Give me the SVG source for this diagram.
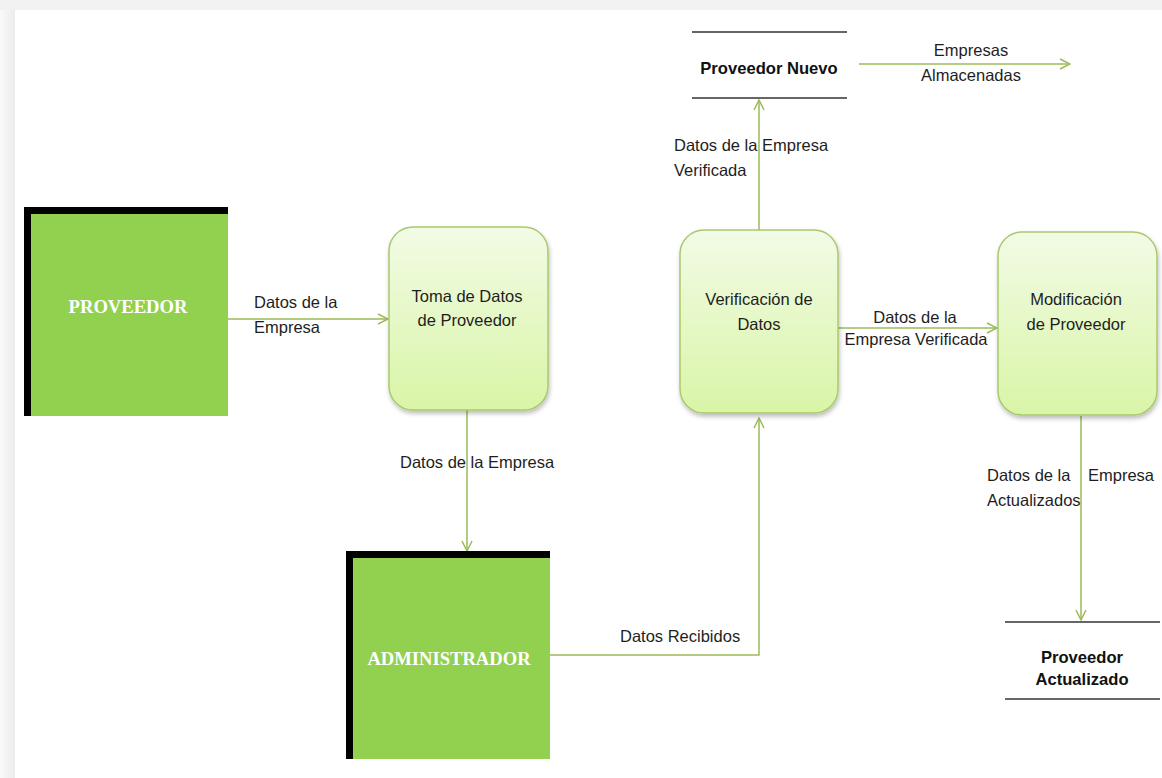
<svg xmlns="http://www.w3.org/2000/svg" width="1162" height="778" viewBox="0 0 1162 778">
<style>
.lbl{font-family:"Liberation Sans",Arial,sans-serif;font-size:16.5px;fill:#1e1e1e}
.ent{font-family:"Liberation Serif","Times New Roman",serif;font-size:18.6px;font-weight:bold;fill:#ffffff}
.st{font-family:"Liberation Sans",Arial,sans-serif;font-size:16.6px;font-weight:bold;fill:#111111}
.conn{fill:none;stroke:#9bbb59;stroke-width:1.5}
.proc{fill:url(#pg);stroke:#a9c96e;stroke-width:1.5;filter:url(#sh)}
.line{stroke:#333333;stroke-width:1.3}
</style>
<defs>
<linearGradient id="pg" x1="0" y1="0" x2="0" y2="1">
<stop offset="0" stop-color="#f2fbe6"/>
<stop offset="1" stop-color="#d9f5a6"/>
</linearGradient>
<linearGradient id="lb" x1="0" y1="0" x2="1" y2="0">
<stop offset="0" stop-color="#fafafa"/>
<stop offset="1" stop-color="#ececec"/>
</linearGradient>
<filter id="sh" x="-20%" y="-20%" width="140%" height="140%">
<feDropShadow dx="1" dy="3" stdDeviation="2" flood-color="#000" flood-opacity="0.25"/>
</filter>
<marker id="ar" viewBox="0 0 12 12" refX="11" refY="6" markerWidth="12" markerHeight="12" markerUnits="userSpaceOnUse" orient="auto">
<path d="M1,1 L11,6 L1,11" fill="none" stroke="#9bbb59" stroke-width="1.5"/>
</marker>
</defs>
<rect x="0" y="0" width="1162" height="778" fill="#f2f2f2"/>
<rect x="0" y="10" width="15" height="768" fill="url(#lb)"/>
<rect x="15" y="10" width="1147" height="768" fill="#ffffff"/>

<g id="connectors">
<line class="conn" x1="228" y1="319" x2="388" y2="319" marker-end="url(#ar)"/>
<line class="conn" x1="467" y1="410" x2="467" y2="551" marker-end="url(#ar)"/>
<polyline class="conn" points="550,655 759,655 759,418" marker-end="url(#ar)"/>
<line class="conn" x1="759" y1="230" x2="759" y2="100" marker-end="url(#ar)"/>
<line class="conn" x1="859" y1="64" x2="1070" y2="64" marker-end="url(#ar)"/>
<line class="conn" x1="838" y1="328" x2="997" y2="328" marker-end="url(#ar)"/>
<line class="conn" x1="1081" y1="416" x2="1081" y2="620" marker-end="url(#ar)"/>
<text class="lbl" x="254" y="308">Datos de la</text>
<text class="lbl" x="254" y="333">Empresa</text>
<text class="lbl" x="400" y="468">Datos de la Empresa</text>
<text class="lbl" x="620" y="642">Datos Recibidos</text>
<text class="lbl" x="674" y="151">Datos de la Empresa</text>
<text class="lbl" x="674" y="176">Verificada</text>
<text class="lbl" x="971" y="56" text-anchor="middle">Empresas</text>
<text class="lbl" x="971" y="81" text-anchor="middle">Almacenadas</text>
<text class="lbl" x="915" y="323" text-anchor="middle">Datos de la</text>
<text class="lbl" x="916" y="345" text-anchor="middle">Empresa Verificada</text>
<text class="lbl" x="987" y="481">Datos de la</text>
<text class="lbl" x="1088" y="481">Empresa</text>
<text class="lbl" x="987" y="506">Actualizados</text>
</g>

<g id="proveedor">
<rect x="24" y="207" width="204" height="209" fill="#000000"/>
<rect x="31" y="214" width="197" height="202" fill="#92d050"/>
<text class="ent" x="128" y="313" text-anchor="middle">PROVEEDOR</text>
</g>

<g id="toma-datos">
<rect class="proc" x="389" y="227" width="159" height="183" rx="24"/>
<text class="lbl" x="467" y="302" text-anchor="middle">Toma de Datos</text>
<text class="lbl" x="467" y="326" text-anchor="middle">de Proveedor</text>
</g>

<g id="administrador">
<rect x="346" y="551" width="204" height="208" fill="#000000"/>
<rect x="353" y="558" width="197" height="201" fill="#92d050"/>
<text class="ent" x="449" y="665" text-anchor="middle">ADMINISTRADOR</text>
</g>

<g id="verificacion">
<rect class="proc" x="680" y="230" width="158" height="183" rx="24"/>
<text class="lbl" x="759" y="305" text-anchor="middle">Verificación de</text>
<text class="lbl" x="759" y="330" text-anchor="middle">Datos</text>
</g>

<g id="modificacion">
<rect class="proc" x="998" y="232" width="159" height="183" rx="24"/>
<text class="lbl" x="1076" y="305" text-anchor="middle">Modificación</text>
<text class="lbl" x="1076" y="330" text-anchor="middle">de Proveedor</text>
</g>

<g id="proveedor-nuevo">
<line class="line" x1="692" y1="32" x2="847" y2="32"/>
<line class="line" x1="692" y1="98" x2="847" y2="98"/>
<text class="st" x="769" y="74" text-anchor="middle">Proveedor Nuevo</text>
</g>

<g id="proveedor-actualizado">
<line class="line" x1="1005" y1="622" x2="1160" y2="622"/>
<line class="line" x1="1005" y1="699" x2="1160" y2="699"/>
<text class="st" x="1082" y="663" text-anchor="middle">Proveedor</text>
<text class="st" x="1082" y="685" text-anchor="middle">Actualizado</text>
</g>
</svg>
